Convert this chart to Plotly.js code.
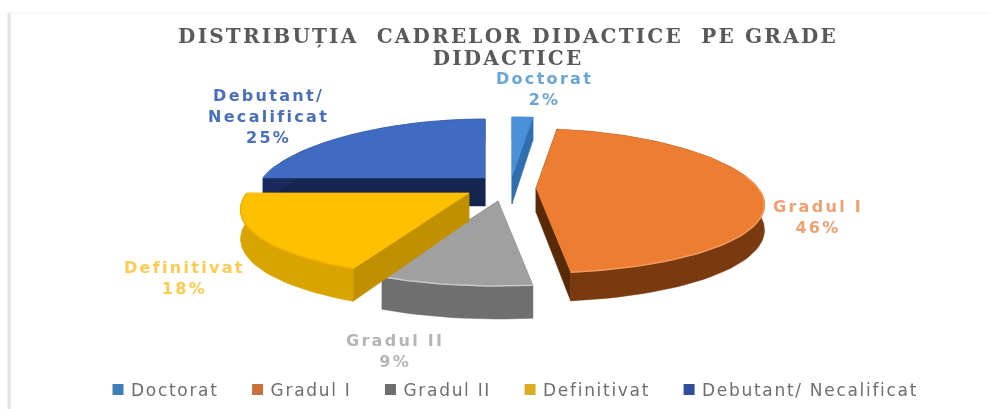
<!DOCTYPE html>
<html>
<head>
<meta charset="utf-8">
<script src="https://cdn.plot.ly/plotly-3.0.1.min.js"></script>
<style>
html,body{margin:0;padding:0;background:#fff;overflow:hidden}
#chart{width:990px;height:409px;filter:blur(0.6px)}
.legendtext{letter-spacing:1.7px;transform:translateX(-10.5px)}
.annotation-text{letter-spacing:2.3px}
.gtitle{letter-spacing:2.2px}
</style>
</head>
<body>
<div id="chart"></div>
<script>
// ---- data ----
const categories = ["Doctorat", "Gradul I", "Gradul II", "Definitivat", "Debutant/ Necalificat"];
const labelNames = ["Doctorat", "Gradul I", "Gradul II", "Definitivat", "Debutant/<br>Necalificat"];
const percents = [2, 46, 9, 18, 25];
const titleText = "DISTRIBUȚIA  CADRELOR DIDACTICE  PE GRADE<br>DIDACTICE";

// ---- styling ----
const topColors = ["#4a90d8", "#ed7d31", "#a0a0a0", "#ffc000", "#3f6cc0"];
const arcColors = ["#2f6fb0", "#7a3a10", "#6f6f6f", "#d9a300", "#1b2a5c"];
const radColors = ["#2f6fb0", "#5a2a08", "#6f6f6f", "#c09000", "#14264f"];
const rimColors = ["#5aa5e8", "#f29a5e", "#c8c8c8", "#f0ae00", "#4a78cc"];
const labelColors = ["#6aa5d8", "#f0a070", "#b5b5b5", "#fdcb4f", "#4a6fba"];
const legendColors = ["#3f7fb5", "#c9713a", "#6e6e6e", "#d9ac22", "#2f4f9a"];

// ---- exploded-pie geometry (pull of each slice, pie projection) ----
const pullX = [512, 536, 498, 469, 485];
const pullY = [176, 188, 201, 193, 178];
const depthScale = [1, 0.87, 1, 1, 1];
const labelX = [544, 818, 395, 184, 268];
const labelY = [89, 217, 351, 278, 116];
const R = 222, Ry = 72, kx = 0.25, ky = 0.18, depth = 28;

function pt(cx, cy, deg, drop) {
  const t = deg * Math.PI / 180, c = Math.cos(t), s = Math.sin(t);
  return [cx + R * s * (1 - kx * c), cy - Ry * c * (1 - ky * c) + drop * (1 - ky * c)];
}
function arc(cx, cy, a0, a1, drop) {
  const out = [], n = Math.max(4, Math.ceil((a1 - a0) / 2));
  for (let i = 0; i <= n; i++) out.push(pt(cx, cy, a0 + (a1 - a0) * i / n, drop));
  return out;
}
function poly(points, color, name) {
  return {
    type: "scatter", mode: "lines", x: points.map(p => p[0]), y: points.map(p => p[1]),
    fill: "toself", fillcolor: color, line: {color: color, width: 0.5},
    showlegend: false, hoverinfo: "name", name: name
  };
}

const total = percents.reduce((a, b) => a + b, 0);
const slices = [];
let acc = 0;
percents.forEach((v, i) => {
  slices.push({i, a0: acc / total * 360, a1: (acc + v) / total * 360});
  acc += v;
});

const drawOrder = [0, 4, 1, 2, 3];
const traces = [];
drawOrder.forEach(i => {
  const s = slices[i], cx = pullX[i], cy = pullY[i], name = categories[i];
  const d = depth * depthScale[i];
  const topArc = arc(cx, cy, s.a0, s.a1, 0);
  const lowArc = arc(cx, cy, s.a0, s.a1, d);
  const c0 = [cx, cy], c1 = [cx, cy + d];
  traces.push(poly([c0, topArc[0], lowArc[0], c1, c0], radColors[i], name));
  traces.push(poly([c0, topArc[topArc.length - 1], lowArc[lowArc.length - 1], c1, c0], radColors[i], name));
  traces.push(poly(topArc.concat(lowArc.slice().reverse()).concat([topArc[0]]), arcColors[i], name));
  traces.push(poly([c0].concat(topArc).concat([c0]), topColors[i], name));
  const rim = arc(cx, cy, Math.max(s.a0, 80), Math.min(s.a1, 280), 0);
  if (s.a1 > 80 && s.a0 < 280) {
    traces.push({
      type: "scatter", mode: "lines", x: rim.map(p => p[0]), y: rim.map(p => p[1]),
      line: {color: rimColors[i], width: 1.5}, showlegend: false, hoverinfo: "skip", name: name
    });
  }
});
categories.forEach((name, i) => {
  traces.push({
    type: "scatter", mode: "markers", x: [null], y: [null], name: name,
    marker: {symbol: "square", size: 11, color: legendColors[i]},
    showlegend: true, hoverinfo: "skip"
  });
});

const annotations = categories.map((c, i) => ({
  x: labelX[i], y: labelY[i], xref: "x", yref: "y", showarrow: false,
  text: "<b>" + labelNames[i] + "<br>" + percents[i] + "%</b>",
  align: "center", xanchor: "center", yanchor: "middle",
  font: {family: "'DejaVu Sans', sans-serif", size: 16, color: labelColors[i]}
}));

const layout = {
  width: 990, height: 409,
  margin: {l: 0, r: 0, t: 0, b: 0},
  paper_bgcolor: "#ffffff", plot_bgcolor: "#ffffff",
  title: {
    text: "<b>" + titleText + "</b>",
    font: {family: "'DejaVu Serif', serif", size: 20, color: "#595959"},
    x: 508 / 990, xanchor: "center", y: 1 - 43 / 409, yanchor: "top"
  },
  xaxis: {range: [0, 990], visible: false, fixedrange: true},
  yaxis: {range: [409, 0], visible: false, fixedrange: true},
  showlegend: true,
  legend: {
    orientation: "h", x: 94.5 / 990, xanchor: "left", y: 1 - 390 / 409, yanchor: "middle",
    font: {family: "'DejaVu Sans', sans-serif", size: 17, color: "#6e6e6e"},
    bgcolor: "rgba(0,0,0,0)", traceorder: "normal", itemwidth: 37
  },
  annotations: annotations,
  shapes: [
    {type: "line", xref: "x", yref: "y", x0: 9, x1: 9, y0: 13, y1: 409, line: {color: "#e2e2e2", width: 3}},
    {type: "line", xref: "x", yref: "y", x0: 8, x1: 990, y0: 13, y1: 13, line: {color: "#f0f0f0", width: 1}}
  ]
};

Plotly.newPlot("chart", traces, layout, {displayModeBar: false, staticPlot: true}).then(() => {
  // tighter leading for the two-line title, as in the reference
  document.querySelectorAll(".gtitle tspan.line").forEach((t, i) => {
    if (i > 0) t.setAttribute("dy", "1.08em");
  });
});
</script>
</body>
</html>
